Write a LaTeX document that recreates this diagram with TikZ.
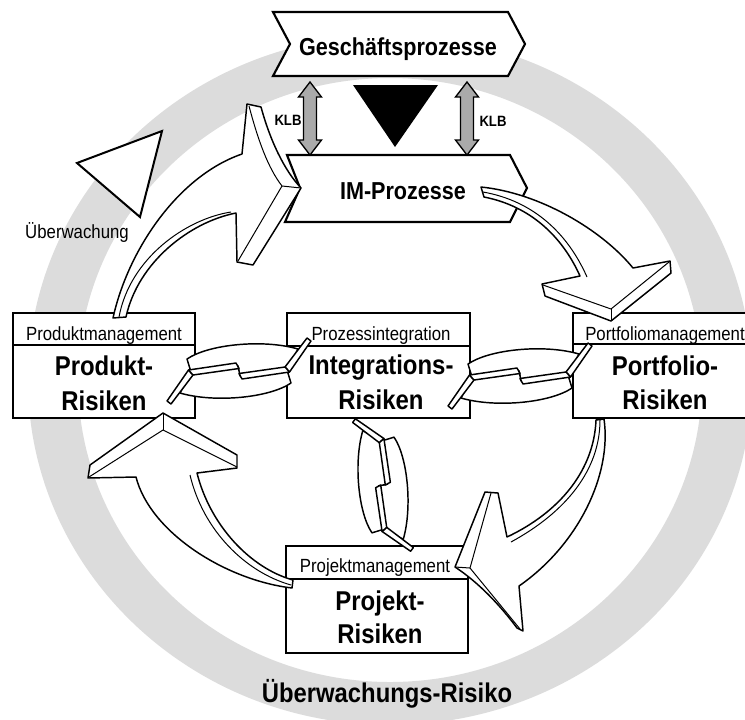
\documentclass[tikz,border=0pt]{standalone}
\usepackage{fontspec}
\setmainfont{Liberation Sans}[FakeStretch=0.88]
\definecolor{ringgray}{RGB}{220,220,220}
\definecolor{klbgray}{RGB}{170,170,170}
\tikzset{
  arr/.style={draw=black,line width=1.1pt,fill=white,line join=round},
  crease/.style={draw=black,line width=0.75pt,line join=round},
  pairbody/.style={fill=white,draw=black,line width=1.1pt,line join=round},
  xpair/.pic={
    % bodies (their inner borders lie under the bands)
    \draw[pairbody] (-52,-12) .. controls (-30,-27) and (25,-32) .. (59,-22) -- (48,-1) -- (1,5) -- (-1,-5) -- (-48,1) -- cycle;
    \draw[pairbody] (52,12) .. controls (30,27) and (-25,32) .. (-59,22) -- (-48,1) -- (-1,-5) -- (1,5) -- (48,-1) -- cycle;
    % heads: blades and bands
    \draw[arr] (68,-33) -- (72,-30) -- (50.5,1) -- (46,-4) -- cycle;
    \draw[arr] (46,-4) -- (50.5,1) -- (3,8) -- (0,2.5) -- cycle;
    \draw[arr] (-68,33) -- (-72,30) -- (-50.5,-1) -- (-46,4) -- cycle;
    \draw[arr] (-46,4) -- (-50.5,-1) -- (-3,-8) -- (0,-2.5) -- cycle;
  }
}
\begin{document}
\begin{tikzpicture}[x=0.75pt,y=-0.75pt,
  boxline/.style={draw=black,line width=1.5pt,fill=white},
  divline/.style={draw=black,line width=0.9pt},
  chev/.style={draw=black,line width=1.6pt,fill=white,line join=miter},
  chevtext/.style={font=\bfseries\fontsize{18.4}{22}\selectfont,inner sep=0pt,anchor=base},
  hdr/.style={font=\fontsize{14.3}{17}\selectfont,inner sep=0pt,anchor=base},
  big/.style={font=\bfseries\fontsize{20.4}{24}\selectfont,inner sep=0pt,anchor=base},
  klbtext/.style={font=\bfseries\fontsize{11.2}{13}\selectfont,inner sep=0pt,anchor=base},
  klbarrow/.style={draw=black,line width=1pt,fill=klbgray,line join=miter}
]
\useasboundingbox (0,0) rectangle (745,719);
\clip (0,0) rectangle (745,719);
\fill[white] (0,0) rectangle (745,719);
% gray ring
\fill[ringgray,even odd rule] (390,380) ellipse [x radius=271.5pt,y radius=258.75pt]
  (390,380) ellipse [x radius=234pt,y radius=226.5pt];

% chevrons
\draw[chev] (273,12) -- (508,12) -- (525,44) -- (508,76) -- (273,76) -- (290,44) -- cycle;
\node[chevtext] (gp) at (398,55) {Geschäftsprozesse};
\draw[chev] (287,155) -- (510,155) -- (527,188) -- (510,222) -- (285,222) -- (300,188) -- cycle;
\node[chevtext] (im) at (403,199.5) {IM-Prozesse};

% KLB double arrows
\coordinate (kl) at (310,82);
\coordinate (kr) at (467,82);
\draw[klbarrow] (kl) -- ++(11.5,15) -- ++(-5,0) -- ++(0,43) -- ++(5,0) -- ++(-11.5,15) -- ++(-11.5,-15) -- ++(5,0) -- ++(0,-43) -- ++(-5,0) -- cycle;
\draw[klbarrow] (kr) -- ++(11.5,15) -- ++(-5,0) -- ++(0,43) -- ++(5,0) -- ++(-11.5,15) -- ++(-11.5,-15) -- ++(5,0) -- ++(0,-43) -- ++(-5,0) -- cycle;
\node[klbtext] (klbL) at (288,125) {KLB};
\node[klbtext] (klbR) at (493,126) {KLB};

% triangles
\fill[black] (353,85) -- (438,85) -- (395,147) -- cycle;
\draw[line width=1.5pt,fill=white,line join=miter] (77,163) -- (162,131) -- (140,217) -- cycle;
\node[hdr] (ueb) at (77,238) {Überwachung};

% boxes
\draw[boxline] (13,313) rectangle (195,418);
\draw[divline] (13,345) -- (195,345);
\draw[boxline] (287,313) rectangle (470,418);
\draw[divline] (287,346) -- (470,346);
\draw[boxline] (573,313) rectangle (756,418);
\draw[divline] (573,344) -- (756,344);
\draw[boxline] (286,546) rectangle (468,653);
\draw[divline] (286,579) -- (468,579);

\node[hdr] (prodh) at (104,340) {Produktmanagement};
\node[big] (prod1) at (104,375) {Produkt-};
\node[big] (prod2) at (104,410) {Risiken};
\node[hdr] (integh) at (381,340) {Prozessintegration};
\node[big] (integ1) at (381,374) {Integrations-};
\node[big] (integ2) at (381,409) {Risiken};
\node[hdr] (portfh) at (665,340) {Portfoliomanagement};
\node[big] (portf1) at (665,375) {Portfolio-};
\node[big] (portf2) at (665,409) {Risiken};
\node[hdr] (projh) at (375,572) {Projektmanagement};
\node[big] (proj1) at (380,610) {Projekt-};
\node[big] (proj2) at (380,643) {Risiken};

\node[font=\bfseries\fontsize{20.3}{24}\selectfont,inner sep=0pt,anchor=base] (uebrisk) at (387,702) {Überwachungs-Risiko};

% big arrow 1: Produkt -> IM
\draw[arr] (113,318) .. controls (128,250) and (178,176) .. (242,154) -- (247,104) -- (261,107) .. controls (270,140) and (284,170) .. (301,188) -- (253,265) -- (237,262) -- (236,213) .. controls (190,222) and (138,262) .. (126,317) -- cycle;
\draw[crease] (249,106) .. controls (258,140) and (268,168) .. (282,186) -- (301,188);
\draw[crease] (282,186) -- (238,261);
\draw[crease] (231,212) .. controls (186,219) and (130,258) .. (119,317);

% big arrow 2: IM -> Portfolio
\draw[arr] (481,187) .. controls (540,193) and (602,230) .. (633,268) -- (670,261) -- (671,273) -- (611,321) -- (545,296) -- (542,284) -- (580,276) .. controls (562,236) and (530,206) .. (484,197) -- cycle;
\draw[crease] (543,285) -- (611,309) -- (669,262);
\draw[crease] (611,309) -- (611,321);
\draw[crease] (587,277) .. controls (568,234) and (534,201) .. (483,192);

% big arrow 3: Portfolio -> Projekt
\draw[arr] (604,419) .. controls (612,475) and (578,545) .. (519,586) -- (523,631) -- (517,628) .. controls (500,605) and (478,582) .. (455,567) -- (485,492) -- (498,493) -- (507,537) .. controls (560,512) and (594,470) .. (596,420) -- cycle;
\draw[crease] (491,493) -- (470,568) -- (520,629);
\draw[crease] (470,568) -- (455,567);
\draw[crease] (511,542) .. controls (566,512) and (600,470) .. (600,420);

% big arrow 4: Projekt -> Produkt
\draw[arr] (292,588) .. controls (225,580) and (150,532) .. (136,477) -- (88,478) -- (90,465) -- (163,413) -- (237,455) -- (237,468) -- (197,473) .. controls (210,525) and (250,568) .. (293,580) -- cycle;
\draw[crease] (163,413) -- (163,430);
\draw[crease] (89,477) -- (163,430) -- (237,467);
\draw[crease] (190,475) .. controls (203,530) and (245,572) .. (291,585);

% exchange pairs
\pic at (239,371) {xpair};
\pic at (520,376) {xpair};
\pic[rotate=-90,scale=0.92] at (383,485) {xpair};
\end{tikzpicture}
\end{document}
